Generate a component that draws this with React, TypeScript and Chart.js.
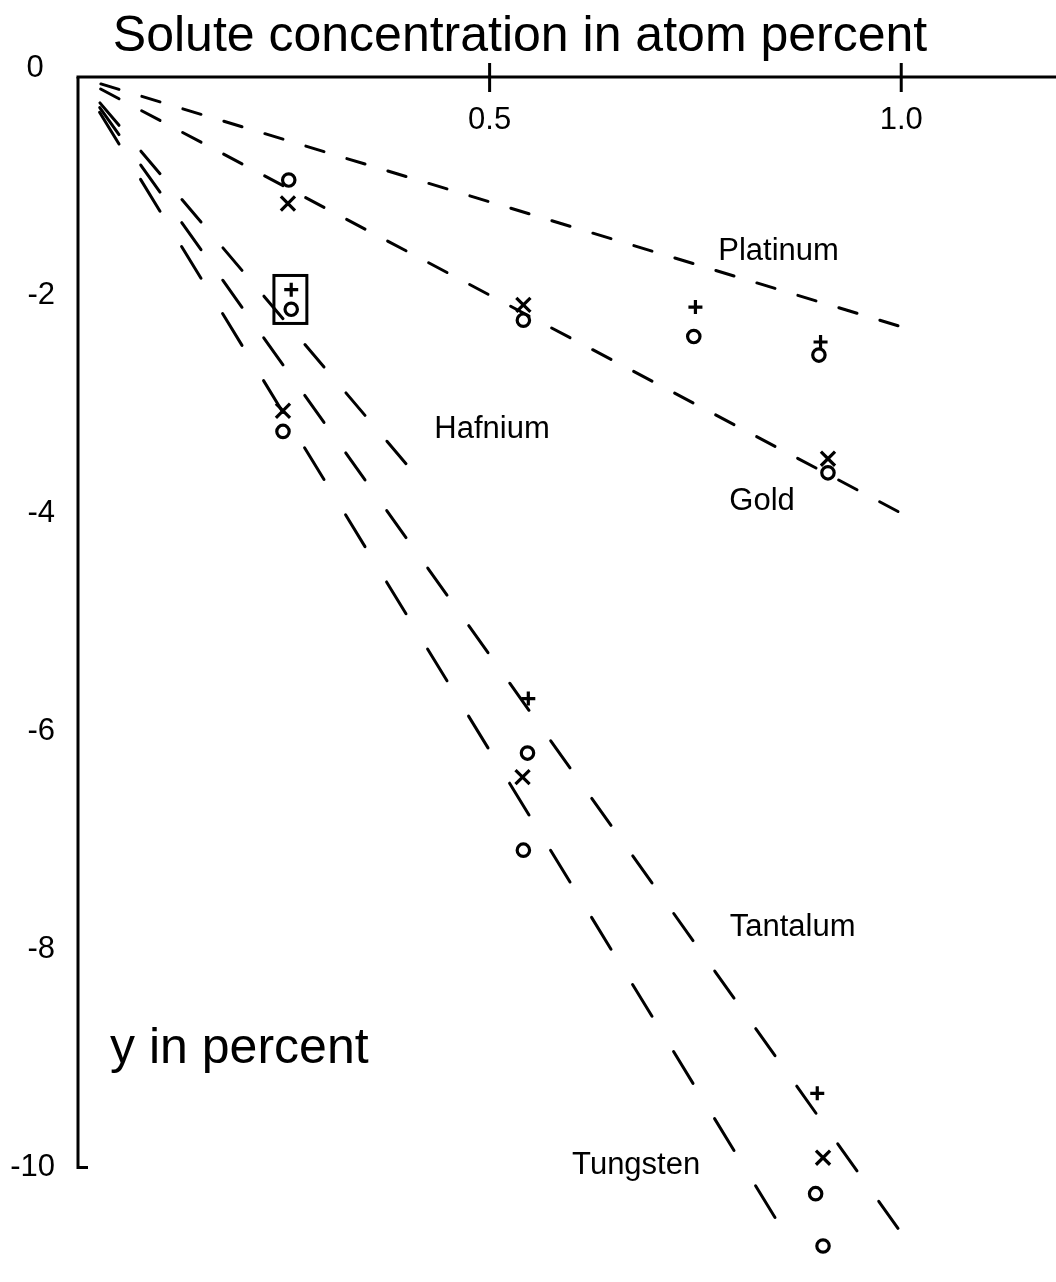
import { useEffect, useRef } from "react";
import { Chart, registerables } from "chart.js";

Chart.register(...registerables);

// Dashed trend lines, each drawn from the origin to its end point
const lineNames = ["Platinum", "Gold", "Hafnium", "Tantalum", "Tungsten"];
const lineEndX = [1.0, 1.0, 0.4, 1.0, 0.85];
const lineEndY = [-2.29, -4.0, -3.56, -10.6, -10.5];

// Where each line's name is written (data coordinates, text centre)
const nameX = [0.851, 0.831, 0.503, 0.868, 0.678];
const nameY = [-1.6, -3.89, -3.23, -7.8, -9.98];

// Measured values: solute concentration (atom %) and y (%)
const circleX = [0.256, 0.259, 0.249, 0.541, 0.546, 0.541, 0.748, 0.9, 0.911, 0.896, 0.905];
const circleY = [-0.945, -2.13, -3.25, -2.23, -6.2, -7.09, -2.38, -2.55, -3.63, -10.24, -10.72];

const crossX = [0.255, 0.249, 0.541, 0.54, 0.911, 0.905];
const crossY = [-1.16, -3.06, -2.09, -6.42, -3.5, -9.91];

const plusX = [0.259, 0.547, 0.75, 0.902, 0.898];
const plusY = [-1.95, -5.7, -2.11, -2.43, -9.32];

// Boxed pair of readings
const boxX = [0.238, 0.278];
const boxY = [-1.82, -2.26];

// Axes
const xTicks = [0.5, 1.0];
const xTickLabels = ["0.5", "1.0"];
const yTicks = [0, -2, -4, -6, -8, -10];
const yTickLabels = ["0", "-2", "-4", "-6", "-8", "-10"];
const xMin = 0;
const xMax = 1.188;
const yMin = -11.05;
const yMax = 0;

const titleText = "Solute concentration in atom percent";
const yTitleText = "y in percent";
const yTitleX = 0.039;
const yTitleY = -9.04;

const FONT = '"Liberation Sans", Arial, Helvetica, sans-serif';
const INK = "#000";

// Dashes are spaced evenly along x, so each line gets its own dash length
const DASH_X = 21;
const GAP_X = 20;

function lineStretch(ctx: any): number {
  const chart = ctx.chart;
  const ds = chart?.data?.datasets?.[ctx.datasetIndex];
  const xs = chart?.scales?.x;
  const ys = chart?.scales?.y;
  if (!ds || !xs || !ys || !ds.data || ds.data.length < 2) return 1;
  const p0 = ds.data[0];
  const p1 = ds.data[ds.data.length - 1];
  const dx = xs.getPixelForValue(p1.x) - xs.getPixelForValue(p0.x);
  const dy = ys.getPixelForValue(p1.y) - ys.getPixelForValue(p0.y);
  if (!isFinite(dx) || !isFinite(dy) || Math.abs(dx) < 1e-6) return 1;
  return Math.hypot(dx, dy) / Math.abs(dx);
}

const axesAndText = {
  id: "axesAndText",
  afterDraw(chart: any) {
    const { ctx, chartArea, scales } = chart;
    const xs = scales.x;
    const ys = scales.y;
    const x0 = xs.getPixelForValue(0);
    const y0 = ys.getPixelForValue(0);
    const yBottom = ys.getPixelForValue(-10);

    ctx.save();
    ctx.strokeStyle = INK;
    ctx.fillStyle = INK;
    ctx.lineWidth = 3;
    ctx.lineCap = "butt";

    // top axis
    ctx.beginPath();
    ctx.moveTo(x0 - 1.5, y0);
    ctx.lineTo(chartArea.right, y0);
    ctx.stroke();

    // left axis with the closing foot at -10
    ctx.beginPath();
    ctx.moveTo(x0, y0);
    ctx.lineTo(x0, yBottom);
    ctx.lineTo(x0 + 10, yBottom);
    ctx.stroke();

    // x ticks crossing the axis
    ctx.font = `31px ${FONT}`;
    ctx.textAlign = "center";
    ctx.textBaseline = "middle";
    xTicks.forEach((v, i) => {
      const px = xs.getPixelForValue(v);
      ctx.beginPath();
      ctx.moveTo(px, y0 - 14);
      ctx.lineTo(px, y0 + 15);
      ctx.stroke();
      ctx.fillText(xTickLabels[i], px, y0 + 43);
    });

    // y tick labels
    yTicks.forEach((v, i) => {
      const py = ys.getPixelForValue(v);
      if (v === 0) {
        ctx.textAlign = "center";
        ctx.fillText(yTickLabels[i], x0 - 43, py - 9);
      } else {
        ctx.textAlign = "right";
        ctx.fillText(yTickLabels[i], x0 - 23, py);
      }
    });

    // box around the highlighted readings
    const bx1 = xs.getPixelForValue(boxX[0]);
    const bx2 = xs.getPixelForValue(boxX[1]);
    const by1 = ys.getPixelForValue(boxY[0]);
    const by2 = ys.getPixelForValue(boxY[1]);
    ctx.lineWidth = 3;
    ctx.strokeRect(bx1, by1, bx2 - bx1, by2 - by1);

    // line names
    ctx.font = `31px ${FONT}`;
    ctx.textAlign = "center";
    ctx.textBaseline = "middle";
    lineNames.forEach((name, i) => {
      ctx.fillText(name, xs.getPixelForValue(nameX[i]), ys.getPixelForValue(nameY[i]));
    });

    // titles
    ctx.font = `50px ${FONT}`;
    ctx.textBaseline = "alphabetic";
    ctx.textAlign = "center";
    ctx.fillText(titleText, x0 + 442, y0 - 26);
    ctx.textAlign = "left";
    ctx.fillText(yTitleText, xs.getPixelForValue(yTitleX), ys.getPixelForValue(yTitleY));

    ctx.restore();
  },
};

export default function App() {
  const canvasRef = useRef<HTMLCanvasElement | null>(null);

  useEffect(() => {
    const canvas = canvasRef.current;
    if (!canvas) return;

    const lineSets = lineNames.map((name, i) => ({
      label: name,
      data: [
        { x: 0, y: 0 },
        { x: lineEndX[i], y: lineEndY[i] },
      ],
      showLine: true,
      pointRadius: 0,
      borderColor: INK,
      borderWidth: 3,
      borderCapStyle: "round" as const,
      borderDash: (ctx: any) => {
        const k = lineStretch(ctx);
        return [DASH_X * k - 3, GAP_X * k + 3];
      },
      borderDashOffset: (ctx: any) => DASH_X * lineStretch(ctx) - 3,
      clip: false as const,
    }));

    const markerSet = (label: string, xsArr: number[], ysArr: number[], style: string, radius: number) => ({
      label,
      data: xsArr.map((x, i) => ({ x, y: ysArr[i] })),
      showLine: false,
      pointStyle: style,
      pointRadius: radius,
      pointBorderWidth: 3.2,
      pointBorderColor: INK,
      pointBackgroundColor: "rgba(0,0,0,0)",
      clip: false as const,
    });

    const chart = new Chart(canvas, {
      type: "scatter",
      data: {
        datasets: [
          ...lineSets,
          markerSet("o", circleX, circleY, "circle", 6.2),
          markerSet("x", crossX, crossY, "crossRot", 10),
          markerSet("+", plusX, plusY, "cross", 7),
        ] as any,
      },
      options: {
        responsive: false,
        maintainAspectRatio: false,
        animation: false,
        layout: { autoPadding: false, padding: { left: 78, top: 77, right: 0, bottom: 0 } },
        scales: {
          x: { type: "linear", min: xMin, max: xMax, display: false },
          y: { type: "linear", min: yMin, max: yMax, display: false },
        },
        plugins: {
          legend: { display: false },
          tooltip: { enabled: false },
          title: { display: false },
        },
      },
      plugins: [axesAndText],
    });

    return () => chart.destroy();
  }, []);

  return (
    <div style={{ position: "absolute", left: 0, top: 0, width: 1056, height: 1282, background: "#fff" }}>
      <canvas ref={canvasRef} width={1056} height={1282} style={{ display: "block" }} />
    </div>
  );
}
